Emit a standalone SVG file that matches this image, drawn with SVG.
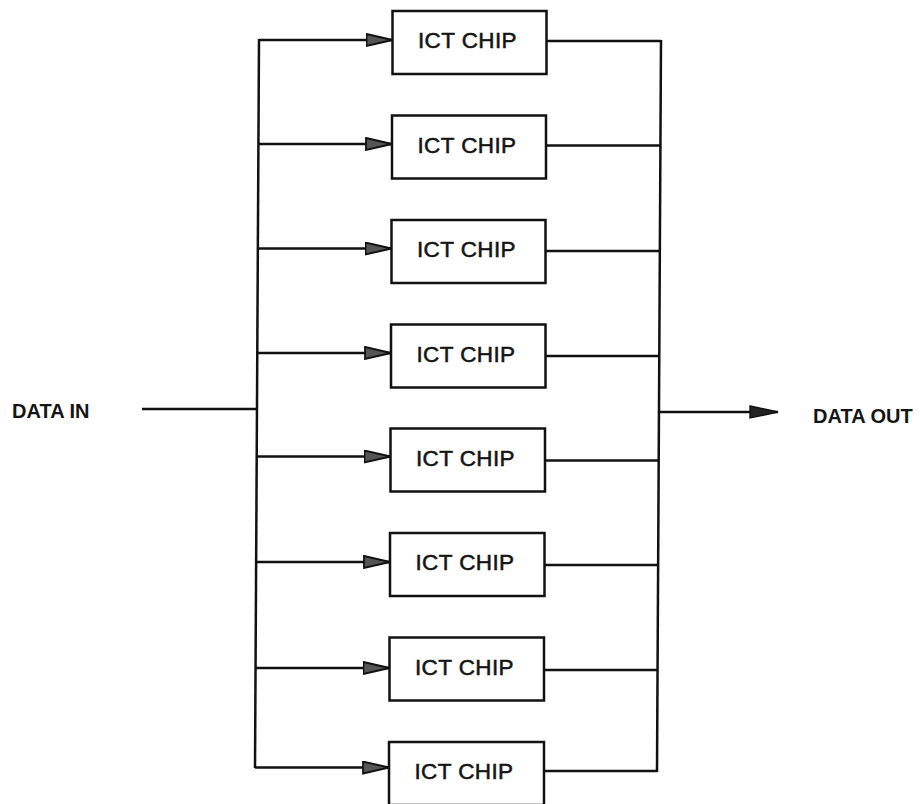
<svg xmlns="http://www.w3.org/2000/svg" width="924" height="804" viewBox="0 0 924 804">
<style>
.box{fill:#fff;stroke:#111;stroke-width:2.5}
.lbl{font-family:"Liberation Sans",Arial,sans-serif;font-size:22.5px;fill:#151515;stroke:#151515;stroke-width:0.55;text-anchor:middle;letter-spacing:0.4px}
.io{font-family:"Liberation Sans",Arial,sans-serif;font-size:20px;font-weight:bold;fill:#151515}
.wire{fill:none;stroke:#111;stroke-width:2.5}
.arr{fill:none;stroke:#111;stroke-width:2.5;marker-end:url(#ah)}
</style>
<defs>
<marker id="ah" viewBox="0 0 28 14" refX="27" refY="7" markerWidth="28" markerHeight="14" markerUnits="userSpaceOnUse" orient="auto">
<path d="M1,1 L27,7 L1,13 Z" fill="#555" stroke="#111" stroke-width="1.8"/>
</marker>
<marker id="ah2" viewBox="0 0 30 14" refX="29" refY="7" markerWidth="30" markerHeight="14" markerUnits="userSpaceOnUse" orient="auto">
<path d="M1,1 L29,7 L1,13 Z" fill="#222" stroke="#111" stroke-width="1.4"/>
</marker>
</defs>
<rect width="924" height="804" fill="#fff"/>

<g id="connectors">
<line class="wire" x1="142" y1="409" x2="257" y2="409"/>
<line class="wire" x1="259" y1="39" x2="255" y2="768"/>
<line class="wire" x1="661" y1="40" x2="657" y2="772"/>
<line x1="660" y1="412" x2="778" y2="412" stroke="#111" stroke-width="2.5" marker-end="url(#ah2)"/>
<path class="arr" d="M259,40 L392.5,40"/>
<path class="arr" d="M258.5,144 L392,144"/>
<path class="arr" d="M258,248.5 L391.5,248.5"/>
<path class="arr" d="M257.5,353 L391,353"/>
<path class="arr" d="M257,456.5 L390.5,456.5"/>
<path class="arr" d="M256.5,562 L390,562"/>
<path class="arr" d="M256,668 L389.5,668"/>
<path class="arr" d="M255,767.5 L389,767.5"/>
<line class="wire" x1="546.5" y1="41" x2="661" y2="41"/>
<line class="wire" x1="546" y1="145.5" x2="660.5" y2="145.5"/>
<line class="wire" x1="545.5" y1="251" x2="660" y2="251"/>
<line class="wire" x1="545.5" y1="356" x2="659.5" y2="356"/>
<line class="wire" x1="545" y1="460.5" x2="659" y2="460.5"/>
<line class="wire" x1="544.5" y1="565" x2="658.5" y2="565"/>
<line class="wire" x1="544" y1="670" x2="658" y2="670"/>
<line class="wire" x1="544" y1="771" x2="657" y2="771"/>
</g>

<g id="chip1"><rect class="box" x="392.5" y="11" width="154" height="63"/><text class="lbl" x="467.5" y="48">ICT CHIP</text></g>
<g id="chip2"><rect class="box" x="392" y="115.5" width="154" height="63"/><text class="lbl" x="467" y="152.5">ICT CHIP</text></g>
<g id="chip3"><rect class="box" x="391.5" y="220" width="154" height="63"/><text class="lbl" x="466.5" y="257">ICT CHIP</text></g>
<g id="chip4"><rect class="box" x="391" y="324.5" width="154.5" height="63"/><text class="lbl" x="466" y="361.5">ICT CHIP</text></g>
<g id="chip5"><rect class="box" x="390.5" y="428.5" width="154.5" height="63"/><text class="lbl" x="465.5" y="465.5">ICT CHIP</text></g>
<g id="chip6"><rect class="box" x="390" y="533" width="154.5" height="63"/><text class="lbl" x="465" y="570">ICT CHIP</text></g>
<g id="chip7"><rect class="box" x="389.5" y="637.5" width="154.5" height="63"/><text class="lbl" x="464.5" y="674.5">ICT CHIP</text></g>
<g id="chip8"><rect class="box" x="389" y="742" width="155" height="63"/><text class="lbl" x="464" y="778.5">ICT CHIP</text></g>

<g id="data-in"><text class="io" x="12" y="418">DATA IN</text></g>
<g id="data-out"><text class="io" x="813" y="423">DATA OUT</text></g>
</svg>
